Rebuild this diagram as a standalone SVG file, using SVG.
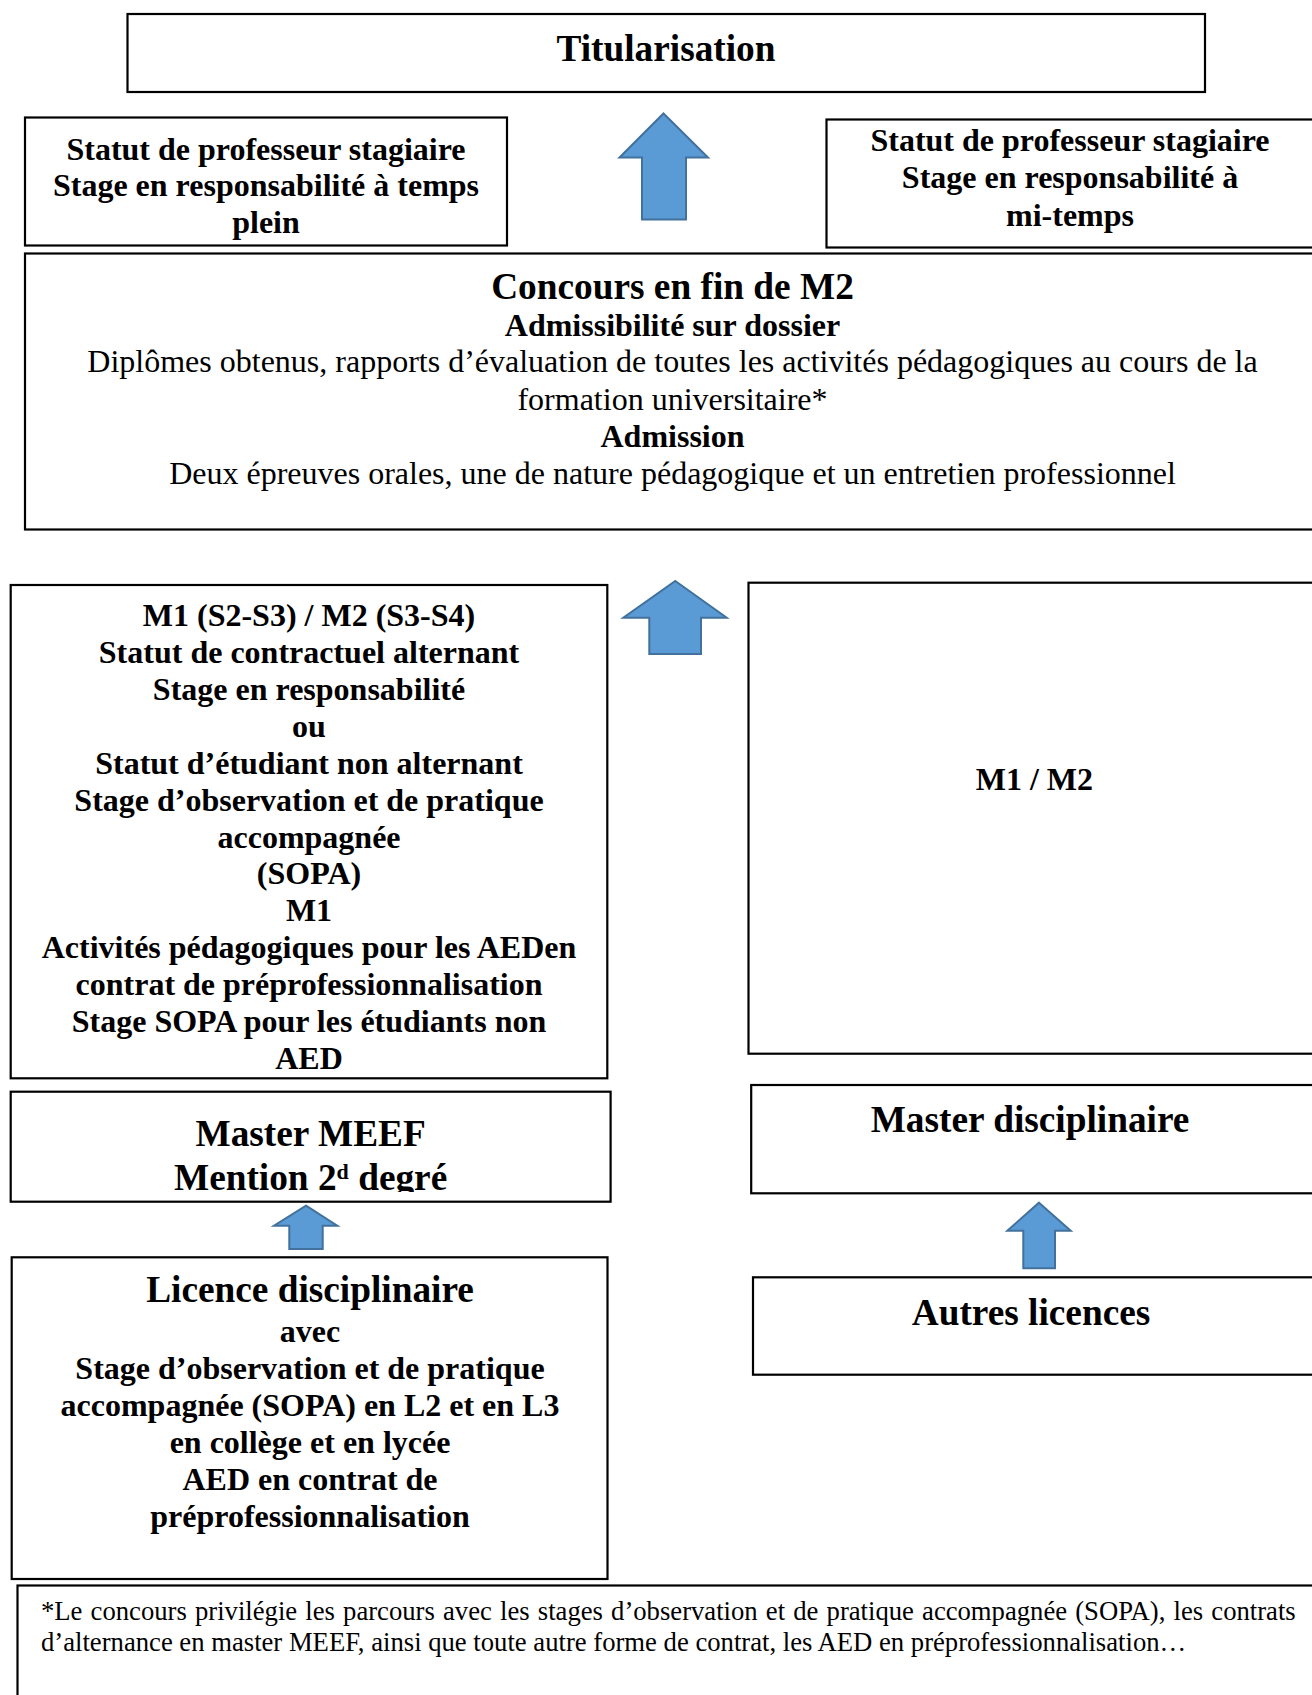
<svg xmlns="http://www.w3.org/2000/svg" width="1312" height="1695" viewBox="0 0 1312 1695">
<style>
.box{fill:#fff;stroke:#000;stroke-width:2.2}
.t{font-family:"Liberation Serif","Times New Roman",serif;fill:#000;text-anchor:middle}
.b{font-weight:bold;font-size:32px}
.h{font-weight:bold;font-size:37.3px}
.r{font-weight:normal;font-size:32px}
.fn{font-family:"Liberation Serif","Times New Roman",serif;fill:#000;font-size:26.67px}
.arrow{fill:#5B9BD5;stroke:#41719C;stroke-width:2;stroke-linejoin:miter}
</style>
<defs>
<clipPath id="meefclip"><rect x="12" y="1093" width="597" height="99"/></clipPath>
</defs>
<rect width="1312" height="1695" fill="#fff"/>

<g id="titularisation">
<rect class="box" x="127.5" y="14" width="1077.5" height="78"/>
<text class="t h" x="666" y="60.5">Titularisation</text>
</g>

<g id="stagiaire-plein">
<rect class="box" x="25" y="117.5" width="482" height="128"/>
<text class="t b" x="266" y="159.5">Statut de professeur stagiaire</text>
<text class="t b" x="266" y="196">Stage en responsabilité à temps</text>
<text class="t b" x="266" y="232.5">plein</text>
</g>

<g id="stagiaire-mi-temps">
<rect class="box" x="826.5" y="119.5" width="500" height="128"/>
<text class="t b" x="1070" y="151">Statut de professeur stagiaire</text>
<text class="t b" x="1070" y="188">Stage en responsabilité à</text>
<text class="t b" x="1070" y="226">mi-temps</text>
</g>

<g id="concours">
<rect class="box" x="25" y="253.5" width="1300" height="276"/>
<text class="t h" x="672.5" y="299">Concours en fin de M2</text>
<text class="t b" x="672.5" y="335.5">Admissibilité sur dossier</text>
<text class="t r" x="672.5" y="372">Diplômes obtenus, rapports d’évaluation de toutes les activités pédagogiques au cours de la</text>
<text class="t r" x="672.5" y="409.5">formation universitaire*</text>
<text class="t b" x="672.5" y="447">Admission</text>
<text class="t r" x="672.5" y="483.5">Deux épreuves orales, une de nature pédagogique et un entretien professionnel</text>
</g>

<g id="m1-m2-meef">
<rect class="box" x="10.7" y="585" width="596.6" height="493.3"/>
<text class="t b" x="309" y="626">M1 (S2-S3) / M2 (S3-S4)</text>
<text class="t b" x="309" y="663">Statut de contractuel alternant</text>
<text class="t b" x="309" y="699.9">Stage en responsabilité</text>
<text class="t b" x="309" y="736.8">ou</text>
<text class="t b" x="309" y="773.7">Statut d’étudiant non alternant</text>
<text class="t b" x="309" y="810.6">Stage d’observation et de pratique</text>
<text class="t b" x="309" y="847.5">accompagnée</text>
<text class="t b" x="309" y="884.4">(SOPA)</text>
<text class="t b" x="309" y="921.3">M1</text>
<text class="t b" x="309" y="958.2">Activités pédagogiques pour les AEDen</text>
<text class="t b" x="309" y="995.1">contrat de préprofessionnalisation</text>
<text class="t b" x="309" y="1032">Stage SOPA pour les étudiants non</text>
<text class="t b" x="309" y="1069">AED</text>
</g>

<g id="m1-m2-disciplinaire">
<rect class="box" x="748.5" y="582.7" width="580" height="471"/>
<text class="t b" x="1034.4" y="790">M1 / M2</text>
</g>

<g id="master-meef">
<rect class="box" x="10.7" y="1091.7" width="599.9" height="110"/>
<g clip-path="url(#meefclip)">
<text class="t h" x="310.6" y="1146">Master MEEF</text>
<text class="t h" x="310.6" y="1190.3">Mention 2<tspan font-size="22" dy="-11">d</tspan><tspan dy="11"> degré</tspan></text>
</g>
</g>

<g id="master-disciplinaire">
<rect class="box" x="751.2" y="1085" width="580" height="108.3"/>
<text class="t h" x="1030" y="1132">Master disciplinaire</text>
</g>

<g id="licence-disciplinaire">
<rect class="box" x="11.7" y="1257.3" width="595.8" height="321.7"/>
<text class="t h" x="310" y="1301.5">Licence disciplinaire</text>
<text class="t b" x="310" y="1341.5">avec</text>
<text class="t b" x="310" y="1378.5">Stage d’observation et de pratique</text>
<text class="t b" x="310" y="1415.5">accompagnée (SOPA) en L2 et en L3</text>
<text class="t b" x="310" y="1452.5">en collège et en lycée</text>
<text class="t b" x="310" y="1489.5">AED en contrat de</text>
<text class="t b" x="310" y="1526.5">préprofessionnalisation</text>
</g>

<g id="autres-licences">
<rect class="box" x="753" y="1277.3" width="580" height="97.4"/>
<text class="t h" x="1031" y="1325">Autres licences</text>
</g>

<g id="footnote">
<rect class="box" x="17.5" y="1585.5" width="1310" height="120"/>
<text class="fn" x="41" y="1620" word-spacing="1.5">*Le concours privilégie les parcours avec les stages d’observation et de pratique accompagnée (SOPA), les contrats</text>
<text class="fn" x="41" y="1650.5">d’alternance en master MEEF, ainsi que toute autre forme de contrat, les AED en préprofessionnalisation…</text>
</g>

<g id="connectors">
<polygon class="arrow" points="663.5,113.5 708,157.5 686,157.5 686,219.5 642,219.5 642,157.5 619.5,157.5"/>
<polygon class="arrow" points="675.3,581 726.7,617.7 701,617.7 701,654 649.3,654 649.3,617.7 623.3,617.7"/>
<polygon class="arrow" points="306,1205.7 337.3,1225.7 322.7,1225.7 322.7,1249 289.3,1249 289.3,1225.7 274,1225.7"/>
<polygon class="arrow" points="1039,1202.7 1070.7,1230.7 1055,1230.7 1055,1268.3 1023.3,1268.3 1023.3,1230.7 1007.3,1230.7"/>
</g>
</svg>
